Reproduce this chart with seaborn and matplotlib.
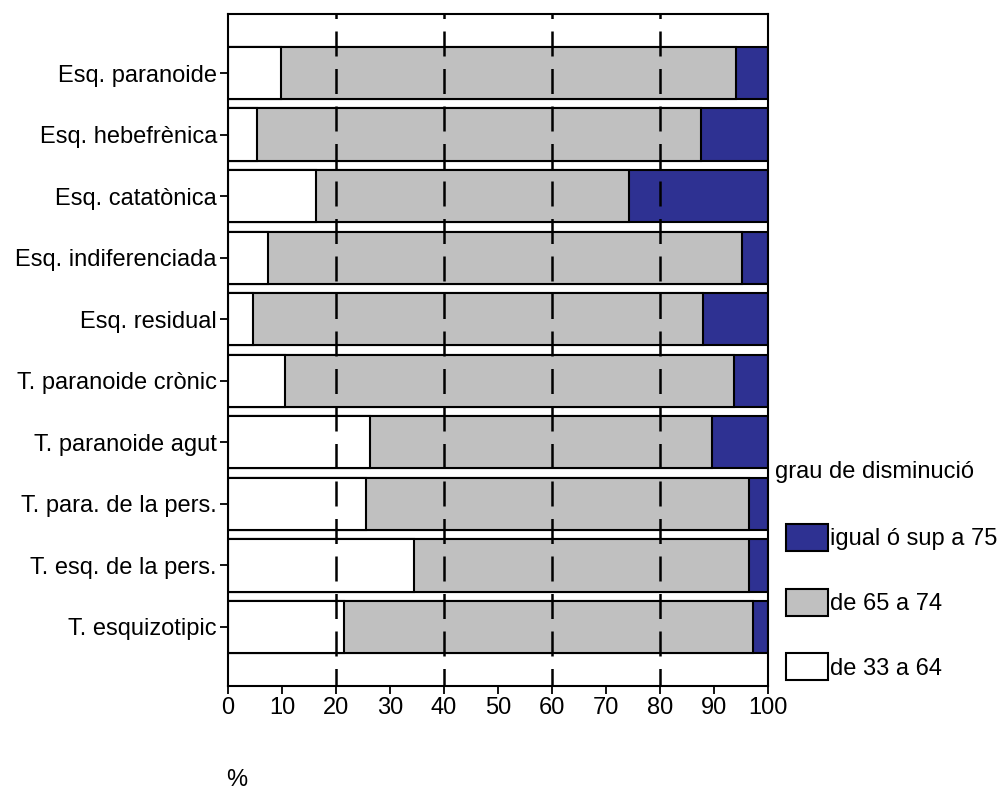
import pandas as pd
import matplotlib
matplotlib.use('Agg')
import matplotlib.pyplot as plt
import seaborn as sns
from matplotlib.patches import Patch

# Data (percentages per diagnosis)
categories = ['Esq. paranoide', 'Esq. hebefrènica', 'Esq. catatònica',
              'Esq. indiferenciada', 'Esq. residual', 'T. paranoide crònic',
              'T. paranoide agut', 'T. para. de la pers.', 'T. esq. de la pers.',
              'T. esquizotipic']
low = [9.8, 5.3, 16.3, 7.4, 4.6, 10.6, 26.3, 25.5, 34.5, 21.5]      # de 33 a 64
mid = [84.2, 82.2, 57.9, 87.8, 83.3, 83.1, 63.3, 70.9, 61.9, 75.8]  # de 65 a 74
high = [6.0, 12.5, 25.8, 4.8, 12.1, 6.3, 10.4, 3.6, 3.6, 2.7]       # igual o sup a 75
legend_labels = ['igual ó sup a 75', 'de 65 a 74', 'de 33 a 64']

df = pd.DataFrame({'cat': categories, 'low': low, 'mid': mid, 'high': high})
df['c_low'] = df['low']
df['c_mid'] = df['low'] + df['mid']
df['c_high'] = df['c_mid'] + df['high']

navy = '#2e3192'
grey = '#c0c0c0'
FS = 17

sns.set_style('white')
plt.rcParams['font.family'] = ['Liberation Sans', 'DejaVu Sans']
plt.rcParams['text.color'] = 'black'

fig = plt.figure(figsize=(10.03, 7.89), dpi=100)
ax = fig.add_axes([228 / 1003, 1 - 686 / 789, 540 / 1003, 672 / 789])

# stacked bars: draw cumulative totals from largest to smallest
for col, color in [('c_high', navy), ('c_mid', grey), ('c_low', 'white')]:
    sns.barplot(data=df, x=col, y='cat', orient='h', color=color,
                edgecolor='black', linewidth=1.5, width=0.85, ax=ax,
                saturation=1)

for xv in [20, 40, 60, 80]:
    ax.axvline(xv, color='black', lw=1.8, ls=(3, (10, 5)), zorder=5)

ax.set_xlim(0, 100)
ax.set_ylim(len(categories) - 1 + 0.96, -0.96)
ax.set_xticks(range(0, 101, 10))
ax.set_xlabel('')
ax.set_ylabel('')
ax.tick_params(axis='both', labelsize=FS, length=6, width=1.3,
               direction='out', colors='black', pad=2,
               bottom=True, left=True)
for s in ax.spines.values():
    s.set_visible(True)
    s.set_color('black')
    s.set_linewidth(1.5)

fig.text(237 / 1003, 1 - 780 / 789, '%', fontsize=FS, ha='center', va='center')
fig.text(775 / 1003, 1 - 472 / 789, 'grau de disminució', fontsize=FS,
         ha='left', va='center')

handles = [Patch(facecolor=navy, edgecolor='black', lw=1.5),
           Patch(facecolor=grey, edgecolor='black', lw=1.5),
           Patch(facecolor='white', edgecolor='black', lw=1.5)]
leg = fig.legend(handles, legend_labels,
                 loc='upper left', bbox_to_anchor=(786 / 1003, 1 - 524 / 789),
                 frameon=False, fontsize=FS,
                 handlelength=1.8, handleheight=1.38, handletextpad=0.05,
                 labelspacing=1.6, borderpad=0, borderaxespad=0)
for t in leg.get_texts():
    t.set_color('black')

fig.savefig('out.png', dpi=100)
